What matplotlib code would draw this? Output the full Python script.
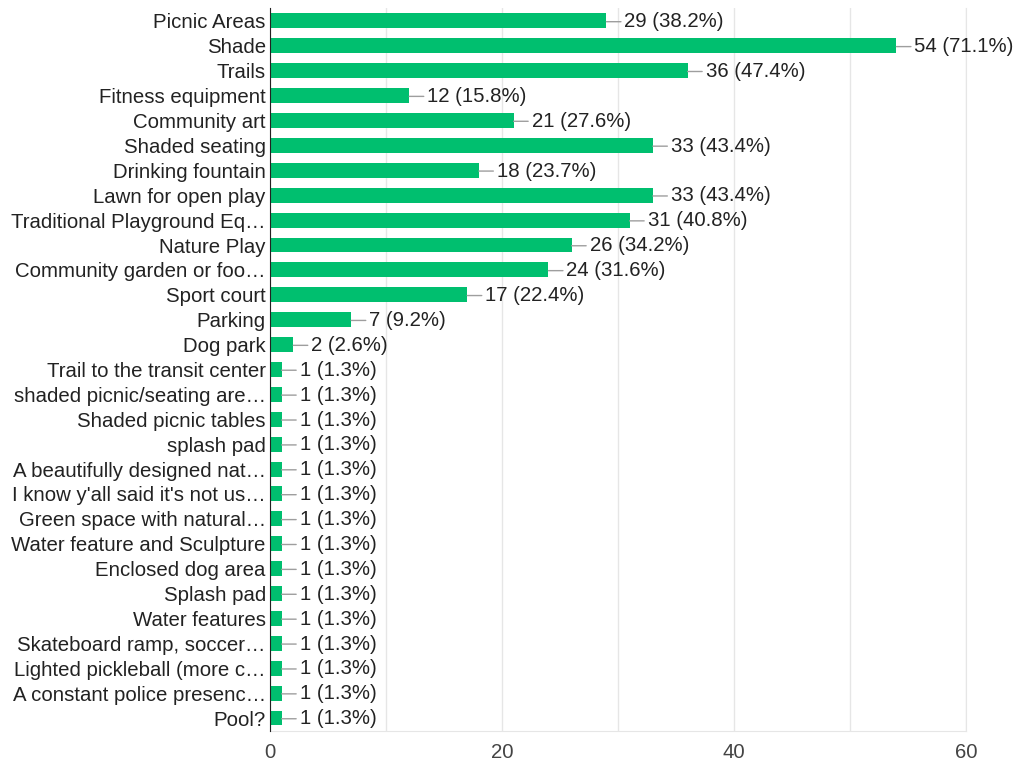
import numpy as np
from matplotlib import pyplot as plt

plt.rcParams['font.family'] = ['Liberation Sans', 'DejaVu Sans']

labels = [
    "Picnic Areas", "Shade", "Trails", "Fitness equipment", "Community art",
    "Shaded seating", "Drinking fountain", "Lawn for open play",
    "Traditional Playground Eq…", "Nature Play", "Community garden or foo…",
    "Sport court", "Parking", "Dog park", "Trail to the transit center",
    "shaded picnic/seating are…", "Shaded picnic tables", "splash pad",
    "A beautifully designed nat…", "I know y'all said it's not us…",
    "Green space with natural…", "Water feature and Sculpture",
    "Enclosed dog area", "Splash pad", "Water features",
    "Skateboard ramp, soccer…", "Lighted pickleball (more c…",
    "A constant police presenc…", "Pool?",
]
counts = [29, 54, 36, 12, 21, 33, 18, 33, 31, 26, 24, 17, 7, 2,
          1, 1, 1, 1, 1, 1, 1, 1, 1, 1, 1, 1, 1, 1, 1]
total = 76

fig = plt.figure(figsize=(10.15, 7.63), dpi=100)
ax = fig.add_axes([0.266, 0.042, 0.6857, 0.9475])

y = np.arange(len(labels))
ax.barh(y, counts, height=0.6, color='#00bf6f', zorder=3)

for yi, c in zip(y, counts):
    ax.annotate(f"{c} ({c / total * 100:.1f}%)", xy=(c, yi + 0.03), xytext=(13, 0),
                textcoords='offset points', ha='left', va='center',
                fontsize=14.7, color='#222222',
                arrowprops=dict(arrowstyle='-', color='#9e9e9e', lw=1,
                                shrinkA=0.5, shrinkB=0, relpos=(0, 0.5)))

ax.set_xlim(0, 60)
ax.set_ylim(len(labels) - 0.48, -0.52)
ax.set_yticks(y)
ax.set_yticklabels(labels, fontsize=14.7, color='#222222')
ax.set_xticks([0, 20, 40, 60])
ax.set_xticks(np.arange(0, 61, 10), minor=True)
ax.tick_params(axis='x', length=0, pad=9, labelsize=14.7, labelcolor='#444444')
ax.tick_params(axis='x', which='minor', length=0)
ax.tick_params(axis='y', length=0, pad=3)
ax.grid(axis='x', which='both', color='#e6e6e6', lw=1, zorder=0)

for s in ['top', 'right', 'bottom']:
    ax.spines[s].set_color('#e6e6e6')
ax.spines['top'].set_visible(False)
ax.spines['left'].set_color('#222222')
ax.spines['left'].set_zorder(4)

plt.savefig('out.png', dpi=100)
